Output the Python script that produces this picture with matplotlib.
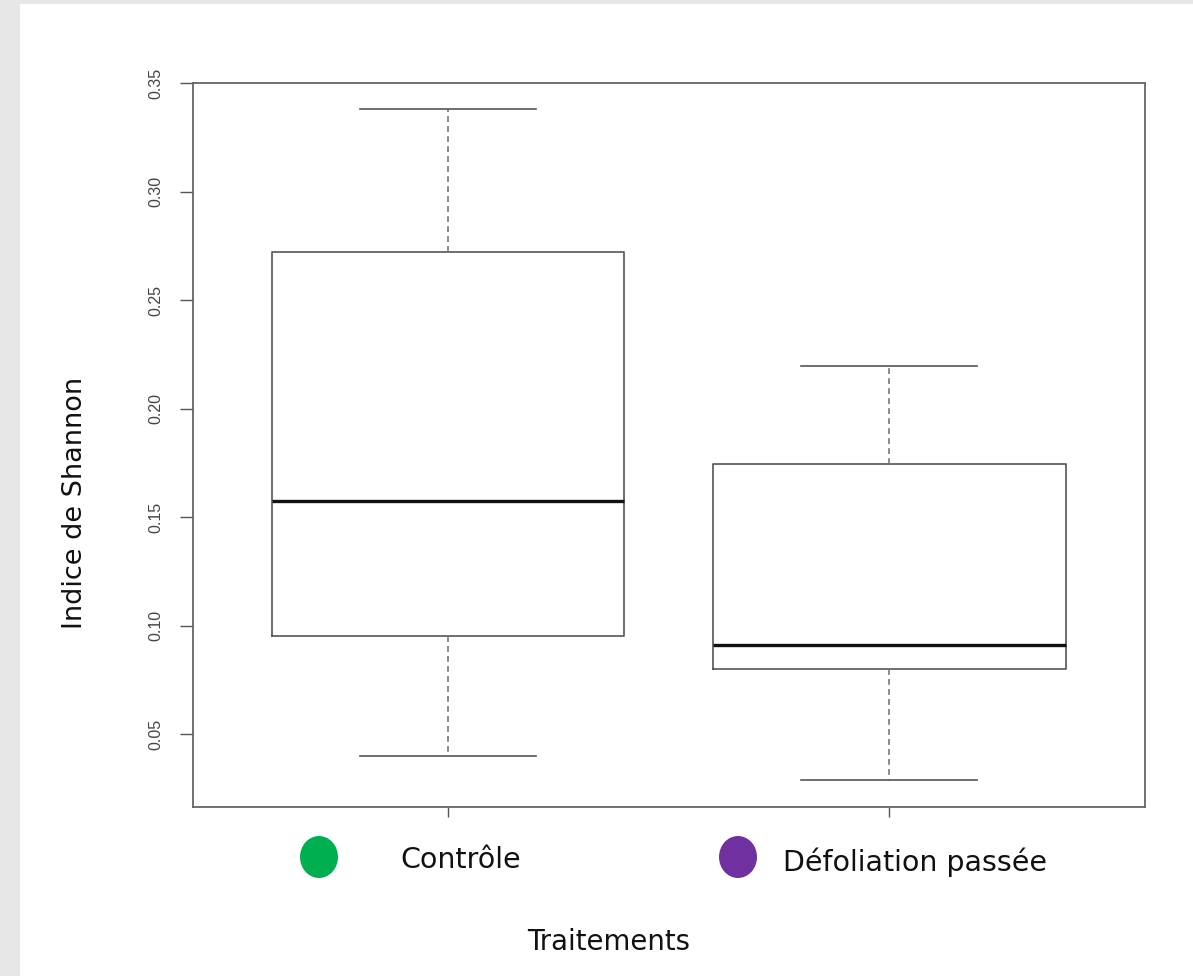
import matplotlib
matplotlib.use('Agg')
import matplotlib.pyplot as plt
from matplotlib.patches import Rectangle, Ellipse

# data
groups = ['Contrôle', 'Défoliation passée']
whislo = [0.0399, 0.0288]
q1 = [0.0952, 0.0800]
med = [0.1574, 0.0910]
q3 = [0.2721, 0.1744]
whishi = [0.3380, 0.2196]
colors = ['#00b050', '#7030a0']
yticks = [0.05, 0.10, 0.15, 0.20, 0.25, 0.30, 0.35]

W, H = 1193, 976
fig = plt.figure(figsize=(W / 100, H / 100), dpi=100)
fig.patch.set_facecolor('#e6e6e6')
fig.add_artist(Rectangle((20 / W, 0), 1 - 20 / W, 1 - 4 / H, transform=fig.transFigure,
                         facecolor='white', edgecolor='none', zorder=0))

ax = fig.add_axes([193 / W, 1 - 807 / H, (1145 - 193) / W, (807 - 83) / H])

stats = []
for i in range(len(groups)):
    stats.append({'whislo': whislo[i], 'q1': q1[i], 'med': med[i],
                  'q3': q3[i], 'whishi': whishi[i], 'fliers': []})

ax.bxp(stats, positions=[1, 2], widths=0.8, capwidths=0.4,
       boxprops=dict(color='#555555', linewidth=1.2),
       medianprops=dict(color='#111111', linewidth=2.4),
       whiskerprops=dict(color='#777777', linewidth=1.2, linestyle=(0, (3.5, 2.5))),
       capprops=dict(color='#555555', linewidth=1.2))

ax.set_xlim(0.422, 2.58)
ax.set_ylim(0.0164, 0.35)
ax.set_yticks(yticks)
ax.set_yticklabels(['%.2f' % v for v in yticks], rotation=90, va='center',
                   fontsize=11.5, color='#444444',
                   family=['Liberation Sans', 'DejaVu Sans'])
ax.set_xticks([1, 2])
ax.set_xticklabels(['', ''])
ax.tick_params(axis='y', length=9.5, width=1, color='#555555', pad=12)
ax.tick_params(axis='x', length=7.5, width=1, color='#555555')
for s in ax.spines.values():
    s.set_color('#666666')
    s.set_linewidth(1.3)

# legend drawn by hand like in the original slide
leg_pos = [(319, 857), (738, 857)]
txt_pos = [(400, 860), (783, 862)]
for i in range(len(groups)):
    cx, cy = leg_pos[i]
    fig.add_artist(Ellipse((cx / W, 1 - cy / H), 38 / W, 42 / H,
                           transform=fig.transFigure, facecolor=colors[i],
                           edgecolor='none'))
    tx, ty = txt_pos[i]
    fig.text(tx / W, 1 - ty / H, groups[i], fontsize=20.5, family='DejaVu Sans',
             va='center', ha='left', color='#111111')

fig.text(609 / W, 1 - 942 / H, 'Traitements', fontsize=19.8, family='DejaVu Sans',
         ha='center', va='center', color='#111111')
fig.text(75 / W, 1 - 503 / H, 'Indice de Shannon', fontsize=19.5, family='DejaVu Sans',
         rotation=90, ha='center', va='center', color='#111111')

fig.savefig('out.png', dpi=100)
